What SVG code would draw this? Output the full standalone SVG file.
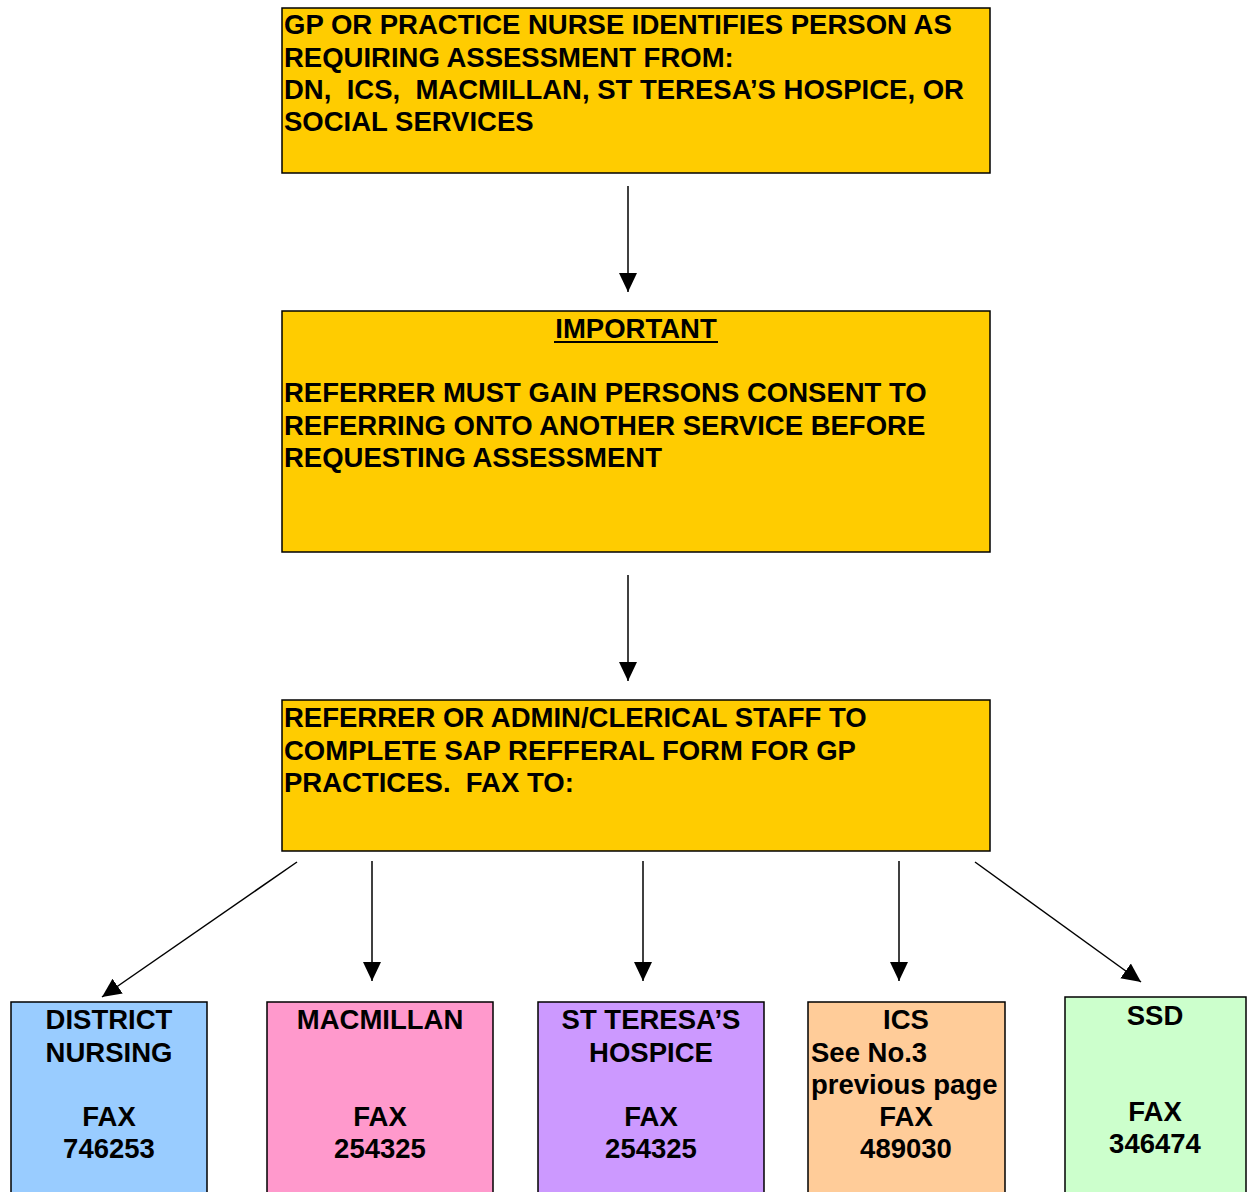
<svg xmlns="http://www.w3.org/2000/svg" width="1248" height="1192" viewBox="0 0 1248 1192">
<style>
  .box { stroke: #000; stroke-width: 1.5; }
  .yel { fill: #FFCC00; }
  .t { font-family: "Liberation Sans", Arial, sans-serif; font-weight: bold; font-size: 27.5px; fill: #000; white-space: pre; }
  .c { text-anchor: middle; }
  .conn line { stroke: #000; stroke-width: 1.5; fill: none; }
</style>
<defs>
  <marker id="ah" markerUnits="userSpaceOnUse" markerWidth="20" markerHeight="20" viewBox="0 0 20 20" refX="19" refY="10" orient="auto">
    <path d="M0,1 L19,10 L0,19 Z" fill="#000"/>
  </marker>
</defs>
<rect width="1248" height="1192" fill="#fff"/>

<g id="n1">
  <rect class="box yel" x="282" y="8" width="708" height="165"/>
  <text class="t" x="284" y="34" xml:space="preserve">GP OR PRACTICE NURSE IDENTIFIES PERSON AS</text>
  <text class="t" x="284" y="67" xml:space="preserve">REQUIRING ASSESSMENT FROM:</text>
  <text class="t" x="284" y="99" xml:space="preserve">DN,  ICS,  MACMILLAN, ST TERESA’S HOSPICE, OR</text>
  <text class="t" x="284" y="131" xml:space="preserve">SOCIAL SERVICES</text>
</g>

<g id="n2">
  <rect class="box yel" x="282" y="311" width="708" height="241"/>
  <text class="t c" x="636" y="338">IMPORTANT</text>
  <rect x="554" y="341" width="164" height="2" fill="#000"/>
  <text class="t" x="284" y="402">REFERRER MUST GAIN PERSONS CONSENT TO</text>
  <text class="t" x="284" y="435">REFERRING ONTO ANOTHER SERVICE BEFORE</text>
  <text class="t" x="284" y="467">REQUESTING ASSESSMENT</text>
</g>

<g id="n3">
  <rect class="box yel" x="282" y="700" width="708" height="151"/>
  <text class="t" x="284" y="727">REFERRER OR ADMIN/CLERICAL STAFF TO</text>
  <text class="t" x="284" y="760">COMPLETE SAP REFFERAL FORM FOR GP</text>
  <text class="t" x="284" y="792" xml:space="preserve">PRACTICES.  FAX TO:</text>
</g>

<g id="n-dn">
  <rect class="box" x="11" y="1002" width="196" height="200" fill="#99CCFF"/>
  <text class="t c" x="109" y="1029">DISTRICT</text>
  <text class="t c" x="109" y="1062">NURSING</text>
  <text class="t c" x="109" y="1126">FAX</text>
  <text class="t c" x="109" y="1158">746253</text>
</g>

<g id="n-mac">
  <rect class="box" x="267" y="1002" width="226" height="200" fill="#FF99CC"/>
  <text class="t c" x="380" y="1029">MACMILLAN</text>
  <text class="t c" x="380" y="1126">FAX</text>
  <text class="t c" x="380" y="1158">254325</text>
</g>

<g id="n-st">
  <rect class="box" x="538" y="1002" width="226" height="200" fill="#CC99FF"/>
  <text class="t c" x="651" y="1029">ST TERESA’S</text>
  <text class="t c" x="651" y="1062">HOSPICE</text>
  <text class="t c" x="651" y="1126">FAX</text>
  <text class="t c" x="651" y="1158">254325</text>
</g>

<g id="n-ics">
  <rect class="box" x="808" y="1002" width="197" height="200" fill="#FFCC99"/>
  <text class="t c" x="906" y="1029">ICS</text>
  <text class="t" x="811" y="1062">See No.3</text>
  <text class="t" x="811" y="1094">previous page</text>
  <text class="t c" x="906" y="1126">FAX</text>
  <text class="t c" x="906" y="1158">489030</text>
</g>

<g id="n-ssd">
  <rect class="box" x="1065" y="997" width="181" height="205" fill="#CCFFCC"/>
  <text class="t c" x="1155" y="1025">SSD</text>
  <text class="t c" x="1155" y="1121">FAX</text>
  <text class="t c" x="1155" y="1153">346474</text>
</g>

<g id="connectors" class="conn">
  <line x1="628" y1="186" x2="628" y2="292" marker-end="url(#ah)"/>
  <line x1="628" y1="575" x2="628" y2="681" marker-end="url(#ah)"/>
  <line x1="297" y1="862" x2="102" y2="997" marker-end="url(#ah)"/>
  <line x1="372" y1="861" x2="372" y2="981" marker-end="url(#ah)"/>
  <line x1="643" y1="861" x2="643" y2="981" marker-end="url(#ah)"/>
  <line x1="899" y1="861" x2="899" y2="981" marker-end="url(#ah)"/>
  <line x1="975" y1="862" x2="1141" y2="982" marker-end="url(#ah)"/>
</g>
</svg>
